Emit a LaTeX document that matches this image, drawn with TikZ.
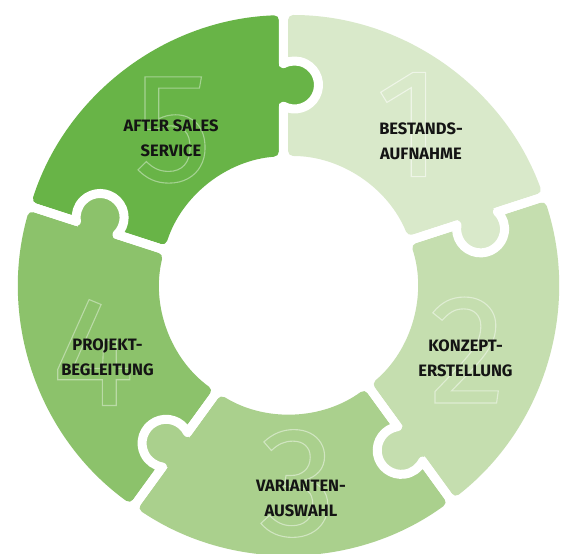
\documentclass[tikz,border=0pt]{standalone}
\usepackage{fontspec}
\setmainfont{Fira Sans}

\definecolor{stepone}{HTML}{D9E9CA}
\definecolor{steptwo}{HTML}{C5DEAF}
\definecolor{stepthree}{HTML}{AAD08D}
\definecolor{stepfour}{HTML}{8CC26B}
\definecolor{stepfive}{HTML}{68B447}

\begin{document}
\begin{tikzpicture}[x=1pt,y=1pt,
		gap/.style={draw=white,line width=9pt,line join=round},
		steptext/.style={font=\bfseries\fontsize{16.5}{25}\selectfont,align=center,text=black!92},
		bignum/.style={inner sep=0pt,font=\fontsize{156}{156}\selectfont,
			execute at begin node={\special{pdf:literal direct 1 Tr 1.1 w}},
			execute at end node={\special{pdf:literal direct 0 Tr}}}]

				% page and margins
				\fill [white] (-288.5,-269) rectangle (279.5,285);
				\useasboundingbox (-288.5,-269) rectangle (279.5,285);

				% the five ring pieces
				\begin{scope}[rotate=54]
					\fill [stepone,rounded corners=5pt] (-33.98:270) arc [start angle=-33.98,end angle=36.1,radius=270] -- (36.2:129) arc [start angle=36.2,end angle=-31.78,radius=129] -- cycle;
				\end{scope}
				\begin{scope}[rotate=-18]
					\fill [steptwo,rounded corners=5pt] (-33.98:270) arc [start angle=-33.98,end angle=36.1,radius=270] -- (36.2:129) arc [start angle=36.2,end angle=-31.78,radius=129] -- cycle;
				\end{scope}
				\begin{scope}[rotate=-90]
					\fill [stepthree,rounded corners=5pt] (-33.98:270) arc [start angle=-33.98,end angle=36.1,radius=270] -- (36.2:129) arc [start angle=36.2,end angle=-31.78,radius=129] -- cycle;
				\end{scope}
				\begin{scope}[rotate=-162]
					\fill [stepfour,rounded corners=5pt] (-33.98:270) arc [start angle=-33.98,end angle=36.1,radius=270] -- (36.2:129) arc [start angle=36.2,end angle=-31.78,radius=129] -- cycle;
				\end{scope}
				\begin{scope}[rotate=126]
					\fill [stepfive,rounded corners=5pt] (-33.98:270) arc [start angle=-33.98,end angle=36.1,radius=270] -- (36.2:129) arc [start angle=36.2,end angle=-31.78,radius=129] -- cycle;
				\end{scope}

				% knobs and the white joints between pieces
				\begin{scope}[rotate=0]
					\fill [stepfive] (6,200) circle [radius=24];
					\draw [gap] (-5,129) -- (-5,178.7) arc [start angle=242.7,end angle=477.3,radius=24] -- (-5,272);
				\end{scope}
				\begin{scope}[rotate=-72]
					\fill [stepone] (6,200) circle [radius=24];
					\draw [gap] (-5,129) -- (-5,178.7) arc [start angle=242.7,end angle=477.3,radius=24] -- (-5,272);
				\end{scope}
				\begin{scope}[rotate=-144]
					\fill [steptwo] (6,200) circle [radius=24];
					\draw [gap] (-5,129) -- (-5,178.7) arc [start angle=242.7,end angle=477.3,radius=24] -- (-5,272);
				\end{scope}
				\begin{scope}[rotate=144]
					\fill [stepthree] (6,200) circle [radius=24];
					\draw [gap] (-5,129) -- (-5,178.7) arc [start angle=242.7,end angle=477.3,radius=24] -- (-5,272);
				\end{scope}
				\begin{scope}[rotate=72]
					\fill [stepfour] (6,200) circle [radius=24];
					\draw [gap] (-5,129) -- (-5,178.7) arc [start angle=242.7,end angle=477.3,radius=24] -- (-5,272);
				\end{scope}

				% big outlined numbers
				\node [bignum,text=white!55!stepone] (num1) at (120.5,160.5) {1};
				\node [bignum,text=white!45!steptwo] (num2) at (179,-65) {2};
				\node [bignum,text=white!45!stepthree] (num3) at (9,-198.5) {3};
				\node [bignum,text=white!40!stepfour] (num4) at (-195.5,-67.5) {4};
				\node [bignum,text=white!40!stepfive] (num5) at (-115.5,155) {5};

				% step names
				\node [steptext] (bestand) at (132.5,143.5) {BESTANDS-\\AUFNAHME};
				\node [steptext] (konzept) at (177,-73.5) {KONZEPT-\\ERSTELLUNG};
				\node [steptext] (variante) at (12.5,-213.5) {VARIANTEN-\\AUSWAHL};
				\node [steptext] (projekt) at (-181,-72) {PROJEKT-\\BEGLEITUNG};
				\node [steptext] (service) at (-117.5,147) {AFTER SALES\\SERVICE};

			\end{tikzpicture}
\end{document}
